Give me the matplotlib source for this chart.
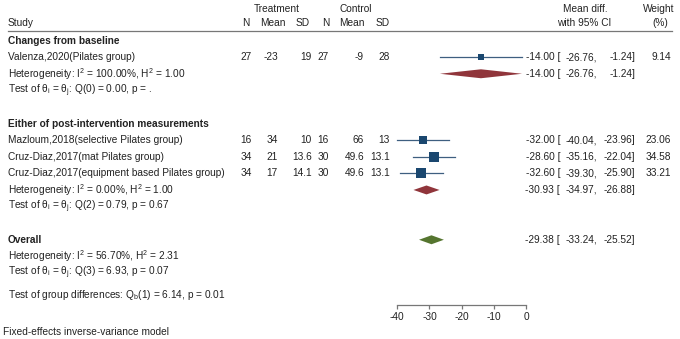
import matplotlib
matplotlib.use("Agg")
import matplotlib.pyplot as plt
import matplotlib.transforms as mtransforms
import numpy as np

plt.rcParams['font.family'] = ['Liberation Sans', 'DejaVu Sans']
plt.rcParams['mathtext.fontset'] = 'custom'
plt.rcParams['mathtext.rm'] = 'Liberation Sans'
plt.rcParams['mathtext.default'] = 'regular'

# study level data
studies = ["Valenza,2020(Pilates group)",
           "Mazloum,2018(selective Pilates group)",
           "Cruz-Diaz,2017(mat Pilates group)",
           "Cruz-Diaz,2017(equipment based Pilates group)"]
study_group = [0, 1, 1, 1]
t_n = [27, 16, 34, 34]
t_mean = [-23, 34, 21, 17]
t_sd = [19, 10, 13.6, 14.1]
c_n = [27, 16, 30, 30]
c_mean = [-9, 66, 49.6, 49.6]
c_sd = [28, 13, 13.1, 13.1]
md = [-14.00, -32.00, -28.60, -32.60]
md_lo = [-26.76, -40.04, -35.16, -39.30]
md_hi = [-1.24, -23.96, -22.04, -25.90]
weight = [9.14, 23.06, 34.58, 33.21]

# subgroups
groups = ["Changes from baseline", "Either of post-intervention measurements"]
group_md = [-14.00, -30.93]
group_lo = [-26.76, -34.97]
group_hi = [-1.24, -26.88]
group_i2 = ["100.00", "0.00"]
group_h2 = ["1.00", "1.00"]
group_q = ["Q(0) = 0.00, p = .", "Q(2) = 0.79, p = 0.67"]

# overall
overall_md, overall_lo, overall_hi = -29.38, -33.24, -25.52
overall_i2, overall_h2 = "56.70", "2.31"
overall_q = "Q(3) = 6.93, p = 0.07"
groupdiff = "Q$_b$(1) = 6.14, p = 0.01"

xticks = [-40, -30, -20, -10, 0]

W, H = 680, 339
fig = plt.figure(figsize=(W / 100, H / 100), dpi=100)
row0, step = 40.5, 16.6   # pixel of first row, row spacing
ybot = 15.93
ytop = -1.0
ax = fig.add_axes([397.3 / W, (H - 305) / H, 128.7 / W, (ybot - ytop) * step / H])
ax.set_xlim(-40, 0)
ax.set_ylim(ybot, ytop)

tr = mtransforms.blended_transform_factory(fig.transFigure, ax.transData)
fs = 7.25
tc = '#222222'
navy = '#1a476f'
maroon = '#90353b'
green = '#55752f'


def txt(px, row, s, ha='left', **kw):
    ax.text(px / W, row, s, transform=tr, ha=ha, va='center', fontsize=fs,
            color=tc, clip_on=False, **kw)


def ci_text(row, est, lo, hi):
    txt(560, row, f"{est:.2f} [", ha='right')
    txt(597, row, f"{lo:.2f},", ha='right')
    txt(635, row, f"{hi:.2f}]", ha='right')


def diamond(row, est, lo, hi, color):
    h = 0.27
    ax.fill([lo, est, hi, est], [row, row - h, row, row + h], color=color, lw=0)


# header
hr1, hr2 = -1.92, -1.07
txt(277, hr1, "Treatment", ha='center')
txt(356, hr1, "Control", ha='center')
txt(585, hr1, "Mean diff.", ha='center')
txt(659, hr1, "Weight", ha='center')
txt(8, hr2, "Study")
for px, s in [(246, "N"), (272.5, "Mean"), (303, "SD"), (326, "N"), (352, "Mean"), (383, "SD")]:
    txt(px, hr2, s, ha='center')
txt(584, hr2, "with 95% CI", ha='center')
txt(660, hr2, "(%)", ha='center')
ax.plot([8 / W, 672 / W], [-0.59, -0.59], transform=tr, color='#777777', lw=0.9, clip_on=False)

row = 0
for g, name in enumerate(groups):
    txt(8, row, name, fontweight='bold')
    row += 1
    for i in range(len(studies)):
        if study_group[i] != g:
            continue
        txt(8, row, studies[i])
        txt(252, row, f"{t_n[i]:g}", ha='right')
        txt(278, row, f"{t_mean[i]:g}", ha='right')
        txt(312, row, f"{t_sd[i]:g}", ha='right')
        txt(329, row, f"{c_n[i]:g}", ha='right')
        txt(364, row, f"{c_mean[i]:g}", ha='right')
        txt(390, row, f"{c_sd[i]:g}", ha='right')
        ax.plot([md_lo[i], md_hi[i]], [row, row], color='#3e5f80', lw=0.9, clip_on=False, zorder=2)
        side = 1.75 * np.sqrt(weight[i]) * 0.72
        ax.scatter([md[i]], [row], marker='s', s=side ** 2, color=navy, lw=0, zorder=3, clip_on=False)
        ci_text(row, md[i], md_lo[i], md_hi[i])
        txt(671, row, f"{weight[i]:.2f}", ha='right')
        row += 1
    txt(8, row, f"Heterogeneity: I$^2$ = {group_i2[g]}%, H$^2$ = {group_h2[g]}")
    diamond(row, group_md[g], group_lo[g], group_hi[g], maroon)
    ci_text(row, group_md[g], group_lo[g], group_hi[g])
    row += 1
    txt(8, row, r"Test of $\theta_i$ = $\theta_j$: " + group_q[g])
    row += 2

txt(8, row, "Overall", fontweight='bold')
diamond(row, overall_md, overall_lo, overall_hi, green)
ci_text(row, overall_md, overall_lo, overall_hi)
txt(8, row + 1, f"Heterogeneity: I$^2$ = {overall_i2}%, H$^2$ = {overall_h2}")
txt(8, row + 2, r"Test of $\theta_i$ = $\theta_j$: " + overall_q)
txt(8, row + 3.3, "Test of group differences: " + groupdiff)
txt(3, row + 5.55, "Fixed-effects inverse-variance model")

for s in ['top', 'left', 'right']:
    ax.spines[s].set_visible(False)
ax.spines['bottom'].set_color('#777777')
ax.spines['bottom'].set_linewidth(0.9)
ax.set_yticks([])
ax.set_xticks(xticks)
ax.set_xticklabels([f"{t}" for t in xticks])
ax.tick_params(axis='x', length=3, width=0.9, color='#777777', labelsize=fs, labelcolor=tc, pad=2)
ax.patch.set_visible(False)

fig.savefig("out.png", dpi=100)
